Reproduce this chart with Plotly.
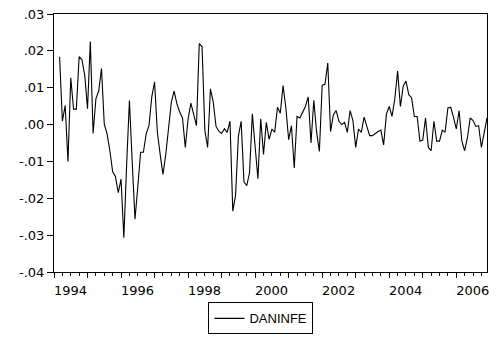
import plotly.graph_objects as go

# ---- data (monthly, 1994M03 .. 2006M12) ----
start_year = 1994
start_month_index = 2          # March 1994 (0 = January 1994)
daninfe = [
    0.0184, 0.0009, 0.0052, -0.0100, 0.0127, 0.0042, 0.0042, 0.0184, 0.0176, 0.0134,
    0.0043, 0.0225, -0.0024, 0.0070, 0.0091, 0.0152, 0.0001, -0.0025, -0.0071, -0.0128,
    -0.0141, -0.0185, -0.0148, -0.0307, -0.0110, 0.0065, -0.0102, -0.0257, -0.0168, -0.0075,
    -0.0075, -0.0025, -0.0003, 0.0075, 0.0116, -0.0021, -0.0080, -0.0135, -0.0082, -0.0016,
    0.0061, 0.0091, 0.0056, 0.0034, 0.0018, -0.0062, 0.0015, 0.0058, 0.0029, -0.0003,
    0.0220, 0.0211, -0.0016, -0.0062, 0.0097, 0.0061, -0.0005, -0.0018, -0.0024, -0.0011,
    -0.0021, 0.0009, -0.0235, -0.0192, -0.0032, 0.0009, -0.0155, -0.0166, -0.0130, 0.0029,
    -0.0060, -0.0147, 0.0016, -0.0081, 0.0006, -0.0040, -0.0012, -0.0021, 0.0047, 0.0031,
    0.0106, 0.0045, -0.0041, -0.0003, -0.0118, 0.0022, 0.0018, 0.0035, 0.0049, 0.0075,
    -0.0050, 0.0066, -0.0020, -0.0073, 0.0107, 0.0109, 0.0167, -0.0019, 0.0026, 0.0038,
    0.0009, 0.0000, 0.0006, -0.0021, 0.0038, 0.0011, -0.0062, -0.0012, -0.0021, 0.0020,
    -0.0007, -0.0030, -0.0030, -0.0024, -0.0019, -0.0015, -0.0055, 0.0029, 0.0049, 0.0022,
    0.0070, 0.0145, 0.0049, 0.0104, 0.0118, 0.0081, 0.0073, 0.0022, 0.0022, -0.0045,
    -0.0042, 0.0018, -0.0062, -0.0071, 0.0009, -0.0045, -0.0045, -0.0015, -0.0021, 0.0045,
    0.0047, 0.0020, -0.0012, 0.0038, -0.0045, -0.0071, -0.0035, 0.0018, 0.0011, -0.0005,
    -0.0003, -0.0062, -0.0016, 0.0018,
]
year_ticks = list(range(1994, 2007))
year_labels = ["1994", "1996", "1998", "2000", "2002", "2004", "2006"]
y_ticks = [0.03, 0.02, 0.01, 0.00, -0.01, -0.02, -0.03, -0.04]
y_labels = [".03", ".02", ".01", ".00", "-.01", "-.02", "-.03", "-.04"]
series_name = "DANINFE"

# time positions in fractional years (workfile 1994M01..2006M12)
x_time = [start_year + (start_month_index + k) / 12 for k in range(len(daninfe))]
x_range = [start_year, start_year + 155 / 12]

tick_font = dict(family="DejaVu Sans", size=13, color="black")

fig = go.Figure()
fig.add_trace(go.Scatter(x=x_time, y=daninfe, mode="lines", name=series_name,
                         line=dict(color="black", width=1.1)))
# helper trace to activate the label axis
fig.add_trace(go.Scatter(x=[x_range[0]], y=[0], xaxis="x2", mode="lines",
                         showlegend=False, hoverinfo="skip", line=dict(width=0)))

label_pos = [int(l) + 0.49 for l in year_labels]

fig.update_layout(
    width=496, height=337,
    margin=dict(l=54, r=9, t=14, b=65, autoexpand=False),
    paper_bgcolor="white", plot_bgcolor="white",
    showlegend=True,
    legend=dict(orientation="h", x=0.478, xanchor="center", y=-0.118, yanchor="top",
                bordercolor="black", borderwidth=1, itemwidth=30,
                font=dict(family="Liberation Sans", size=13, color="black")),
    xaxis=dict(range=x_range, tickmode="array", tickvals=year_ticks, showticklabels=False,
               ticks="outside", ticklen=5, tickwidth=1, tickcolor="black",
               minor=dict(tickmode="linear", tick0=1994, dtick=0.25, ticks="outside",
                          ticklen=3, tickcolor="black", showgrid=False),
               showline=True, linecolor="black", linewidth=1, mirror=True,
               showgrid=False, zeroline=False, automargin=False),
    xaxis2=dict(range=x_range, overlaying="x", anchor="y", side="bottom",
                tickmode="array", tickvals=label_pos, ticktext=year_labels,
                ticks="", showline=False, showgrid=False, zeroline=False,
                ticklabelstandoff=9, tickfont=tick_font, automargin=False),
    yaxis=dict(range=[-0.04, 0.03], tickmode="array", tickvals=y_ticks, ticktext=y_labels,
               ticks="outside", ticklen=6, tickwidth=1, tickcolor="black",
               showline=True, linecolor="black", linewidth=1, mirror=True,
               showgrid=False, zeroline=False, tickfont=tick_font, automargin=False),
)

fig.write_html("out.html")
